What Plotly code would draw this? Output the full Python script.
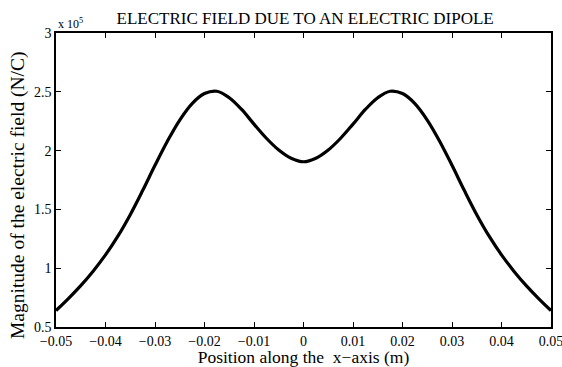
import plotly.graph_objects as go

x_pos = [-0.05, -0.0475, -0.045, -0.0425, -0.04, -0.0375, -0.035, -0.0325, -0.03, -0.0275,
         -0.025, -0.0225, -0.02, -0.0175, -0.015, -0.0125, -0.01, -0.0075, -0.005, -0.0025,
         0.0, 0.0025, 0.005, 0.0075, 0.01, 0.0125, 0.015, 0.0175, 0.02, 0.0225,
         0.025, 0.0275, 0.03, 0.0325, 0.035, 0.0375, 0.04, 0.0425, 0.045, 0.0475, 0.05]
e_mag_1e5 = [0.64, 0.742, 0.852, 0.975, 1.113, 1.272, 1.455, 1.66, 1.875, 2.08,
             2.26, 2.40, 2.485, 2.505, 2.45, 2.35, 2.225, 2.105, 2.005, 1.935,
             1.905, 1.935, 2.005, 2.105, 2.225, 2.35, 2.45, 2.505, 2.485, 2.40,
             2.26, 2.08, 1.875, 1.66, 1.455, 1.272, 1.113, 0.975, 0.852, 0.742, 0.64]
e_mag = [v * 1e5 for v in e_mag_1e5]

x_ticks = [-0.05, -0.04, -0.03, -0.02, -0.01, 0, 0.01, 0.02, 0.03, 0.04, 0.05]
x_tick_text = ["\u22120.05", "\u22120.04", "\u22120.03", "\u22120.02", "\u22120.01", "0",
               "0.01", "0.02", "0.03", "0.04", "0.05"]
y_ticks = [0.5e5, 1e5, 1.5e5, 2e5, 2.5e5, 3e5]
y_tick_text = ["0.5", "1", "1.5", "2", "2.5", "3"]

font = "Liberation Serif"

fig = go.Figure()
fig.add_trace(go.Scatter(x=x_pos, y=e_mag, mode="lines",
                         line=dict(color="black", width=3.2, shape="spline", smoothing=1.0),
                         showlegend=False, hoverinfo="skip"))

axis_common = dict(showline=True, linecolor="black", linewidth=1.5, mirror="ticks",
                   ticks="inside", ticklen=5, tickwidth=1, tickcolor="black",
                   showgrid=False, zeroline=False, automargin=False,
                   tickfont=dict(family=font, size=14, color="black"))

fig.update_xaxes(range=[-0.05, 0.05], tickvals=x_ticks, ticktext=x_tick_text,
                 ticklabeloverflow="allow",
                 title=dict(text="Position along the  x\u2212axis (m)",
                            font=dict(family=font, size=17.5, color="black")),
                 **axis_common)
fig.update_yaxes(range=[0.5e5, 3e5], tickvals=y_ticks, ticktext=y_tick_text,
                 **axis_common)

fig.update_layout(
    width=562, height=367,
    margin=dict(l=56, r=11, t=33, b=40),
    paper_bgcolor="white", plot_bgcolor="white",
    title=dict(text="ELECTRIC FIELD DUE TO AN ELECTRIC DIPOLE", x=0.543, xanchor="center",
               y=0.951, yanchor="middle",
               font=dict(family=font, size=17, color="black")),
    annotations=[
        dict(text="x 10<sup>5</sup>", xref="paper", yref="paper", x=0.0, y=1.0,
             xanchor="left", yanchor="bottom", showarrow=False, yshift=0,
             font=dict(family=font, size=12, color="black")),
        dict(text="Magnitude of the electric field (N/C)", xref="paper", yref="paper",
             x=-0.0768, y=0.449, xanchor="center", yanchor="middle", textangle=-90,
             showarrow=False, font=dict(family=font, size=19.5, color="black")),
    ],
)

fig.write_html("out.html", config={"displayModeBar": False},
               post_script="document.body.style.margin='0';document.body.style.overflow='hidden';")
